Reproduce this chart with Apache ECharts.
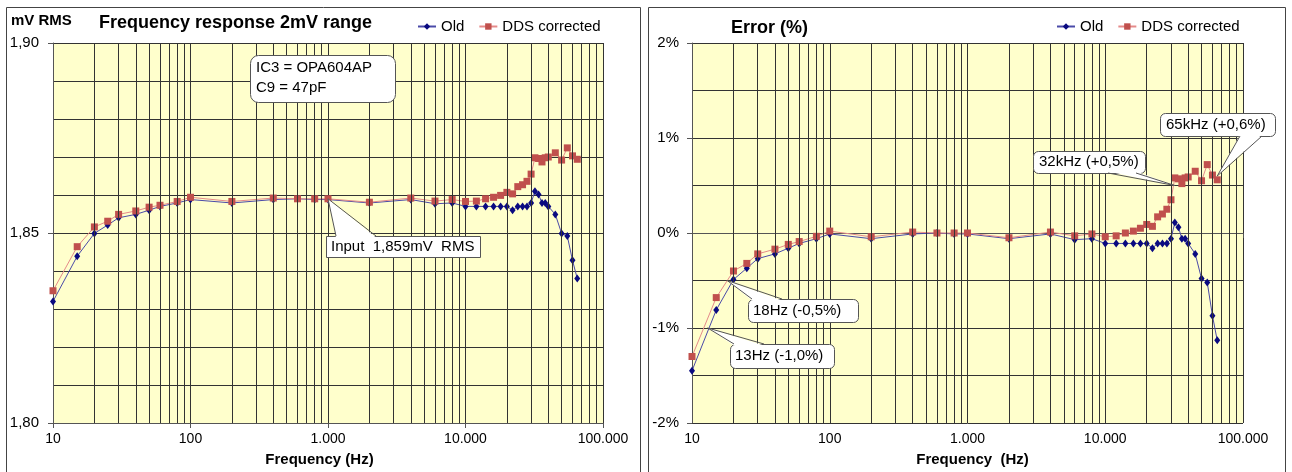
<!DOCTYPE html>
<html><head><meta charset="utf-8">
<script src="https://cdn.jsdelivr.net/npm/echarts@6/dist/echarts.min.js"></script>
<style>html,body{margin:0;padding:0;background:#fff;}#c{width:1292px;height:472px;}</style>
</head><body><div id="c"></div>
<script>
// ---- data ----
const freqs = [10,15,20,25,30,40,50,60,80,100,200,400,600,800,1000,2000,4000,6000,8000,10000,12000,14000,16000,18000,20000,22000,24000,26000,28000,30000,32000,34000,36000,38000,40000,45000,50000,55000,60000,65000];
const mvOld = [1.8320,1.8439,1.8499,1.8521,1.8540,1.8549,1.8560,1.8570,1.8579,1.8588,1.8579,1.8588,1.8590,1.8588,1.8588,1.8579,1.8588,1.8577,1.8579,1.8570,1.8570,1.8570,1.8570,1.8570,1.8570,1.8560,1.8570,1.8570,1.8570,1.8579,1.8610,1.8601,1.8579,1.8579,1.8570,1.8549,1.8499,1.8492,1.8428,1.8380];
const mvDDS = [1.8348,1.8464,1.8516,1.8531,1.8549,1.8558,1.8568,1.8573,1.8583,1.8594,1.8583,1.8592,1.8590,1.8590,1.8590,1.8581,1.8592,1.8584,1.8588,1.8583,1.8584,1.8590,1.8594,1.8599,1.8607,1.8603,1.8622,1.8627,1.8636,1.8655,1.8698,1.8696,1.8687,1.8698,1.8700,1.8711,1.8692,1.8724,1.8703,1.8694];
const errOld = [-1.45,-0.81,-0.49,-0.37,-0.27,-0.22,-0.16,-0.11,-0.06,-0.01,-0.06,-0.01,0.00,-0.01,-0.01,-0.06,-0.01,-0.07,-0.06,-0.11,-0.11,-0.11,-0.11,-0.11,-0.11,-0.16,-0.11,-0.11,-0.11,-0.06,0.11,0.06,-0.06,-0.06,-0.11,-0.22,-0.48,-0.52,-0.87,-1.13];
const errDDS = [-1.30,-0.68,-0.40,-0.32,-0.22,-0.17,-0.12,-0.09,-0.035,0.02,-0.04,0.01,0.00,0.00,0.00,-0.05,0.01,-0.03,-0.01,-0.04,-0.03,0.00,0.02,0.05,0.09,0.07,0.17,0.20,0.25,0.35,0.58,0.57,0.52,0.58,0.59,0.65,0.55,0.72,0.61,0.56];
const seriesNames = ['Old','DDS corrected'];
const leftTitle = 'Frequency response 2mV range';
const leftUnit = 'mV RMS';
const rightTitle = 'Error (%)';
const xNameLeft = 'Frequency (Hz)';
const xNameRight = 'Frequency  (Hz)';
const inputLabel = 'Input  1,859mV  RMS';
const circuitNote = 'IC3 = OPA604AP\nC9 = 47pF';
const refInput = 1.859;
const notes = [
  {f:65000, v:0.6, text:'65kHz (+0,6%)'},
  {f:32000, v:0.5, text:'32kHz (+0,5%)'},
  {f:18, v:-0.5, text:'18Hz (-0,5%)'},
  {f:13, v:-1.0, text:'13Hz (-1,0%)'}
];

// minor log grid lines (2..9 per decade)
const minorFreqs = [];
[10,100,1000,10000].forEach(d => { for (let k = 2; k <= 9; k++) minorFreqs.push(k*d); });

const FONT = '"Liberation Sans", Arial, sans-serif';
const GRID = '#333';
const AX = '#555';
const OLD_MARK = '#0a0a80', OLD_LINE = '#4a4aa8';
const DDS_MARK = '#c0504d', DDS_LINE = '#e58a8a';

function fmtHz(v){
  const n = Math.round(v);
  return String(n).replace(/\B(?=(\d{3})+(?!\d))/g, '.');
}
function xAx(gi, name, pad){
  return {type:'log', logBase:10, gridIndex:gi, min:10, max:100000,
    axisLine:{show:true, lineStyle:{color:AX}},
    axisTick:{show:true, length:5, lineStyle:{color:AX}},
    axisLabel:{fontSize:14, color:'#000', fontFamily:FONT, margin:9, formatter:fmtHz},
    splitLine:{show:true, lineStyle:{color:GRID, width:1}},
    name:name, nameLocation:'middle', nameGap:29,
    nameTextStyle:{fontSize:15, fontWeight:'bold', color:'#000', fontFamily:FONT, padding:pad}};
}
function line(name, gi, ys, mark, lc, symbol, size, z){
  return {name, type:'line', xAxisIndex:gi, yAxisIndex:gi, z,
    data: freqs.map((f,i)=>[f, ys[i]]),
    symbol, symbolSize:size, showSymbol:true,
    itemStyle:{color:mark}, lineStyle:{color:lc, width:1},
    emphasis:{disabled:true}, animation:false};
}
function minorGrid(gi){
  return {type:'line', xAxisIndex:gi, yAxisIndex:gi, data:[], silent:true, z:1, animation:false,
    markLine:{silent:true, symbol:['none','none'], animation:false, label:{show:false},
      lineStyle:{color:GRID, width:1, type:'solid'}, emphasis:{disabled:true},
      data: minorFreqs.map(v=>({xAxis:v}))}};
}
const legendBase = {orient:'horizontal', itemWidth:18, itemHeight:8, itemGap:14,
  textStyle:{fontSize:15, color:'#000', fontFamily:FONT}, data:seriesNames, selectedMode:false};

const chart = echarts.init(document.getElementById('c'));
chart.setOption({
  animation:false,
  backgroundColor:'#fff',
  textStyle:{fontFamily:FONT},
  grid:[
    {left:53, top:43, width:550, height:384, show:true, backgroundColor:'#FFFFCC', borderWidth:0},
    {left:692, top:43, width:551, height:383, show:true, backgroundColor:'#FFFFCC', borderWidth:0}
  ],
  legend:[
    Object.assign({}, legendBase, {left:412, top:14}),
    Object.assign({}, legendBase, {left:1051, top:14})
  ],
  xAxis:[ xAx(0, xNameLeft, [0,17,0,0]), xAx(1, xNameRight, [0,0,0,10]) ],
  yAxis:[
    {type:'value', gridIndex:0, min:1.80, max:1.90, interval:0.05,
     axisLine:{show:true, lineStyle:{color:AX}}, axisTick:{show:true, length:5, lineStyle:{color:AX}},
     axisLabel:{fontSize:15, color:'#000', fontFamily:FONT, margin:14, formatter:v=>v.toFixed(2).replace('.',',')},
     splitLine:{show:true, lineStyle:{color:GRID}},
     minorTick:{show:false, splitNumber:5}, minorSplitLine:{show:true, lineStyle:{color:GRID}}},
    {type:'value', gridIndex:1, min:-2, max:2, interval:1,
     axisLine:{show:true, lineStyle:{color:AX}}, axisTick:{show:true, length:5, lineStyle:{color:AX}},
     axisLabel:{fontSize:15, color:'#000', fontFamily:FONT, margin:13, formatter:v=>Math.round(v)+'%'},
     splitLine:{show:true, lineStyle:{color:GRID}},
     minorTick:{show:false, splitNumber:2}, minorSplitLine:{show:true, lineStyle:{color:GRID}}}
  ],
  series:[
    minorGrid(0), minorGrid(1),
    line(seriesNames[0], 0, mvOld, OLD_MARK, OLD_LINE, 'diamond', [6,8], 3),
    line(seriesNames[1], 0, mvDDS, DDS_MARK, DDS_LINE, 'rect', 7, 4),
    line(seriesNames[0], 1, errOld, OLD_MARK, OLD_LINE, 'diamond', [6,8], 3),
    line(seriesNames[1], 1, errDDS, DDS_MARK, DDS_LINE, 'rect', 7, 4)
  ]
});

// ---- annotations (graphic) ----
const px = (gi, v) => chart.convertToPixel({gridIndex:gi}, v);
const BOXC = '#555';
function callout(box, r, text, tip, b1, b2, dy, tx, ty, lh){
  const els = [];
  els.push({type:'rect', z:100, shape:{x:box[0]+0.5, y:box[1]+0.5, width:box[2], height:box[3], r:r},
    style:{fill:'#fff', stroke:BOXC, lineWidth:1}});
  if (tip){
    els.push({type:'polygon', z:101, shape:{points:[tip, [b1[0],b1[1]+dy], [b2[0],b2[1]+dy]]},
      style:{fill:'#fff', stroke:null}});
    els.push({type:'line', z:102, shape:{x1:tip[0], y1:tip[1], x2:b1[0], y2:b1[1]}, style:{stroke:BOXC, lineWidth:1}});
    els.push({type:'line', z:102, shape:{x1:tip[0], y1:tip[1], x2:b2[0], y2:b2[1]}, style:{stroke:BOXC, lineWidth:1}});
  }
  els.push({type:'text', z:103, style:{text:text, x:tx, y:ty, fill:'#000', font:'15px "Liberation Sans", Arial, sans-serif',
    textVerticalAlign:'middle', lineHeight: lh || 18}});
  return els;
}
let g = [];
// panel frames
g.push({type:'rect', z:0, shape:{x:6.5, y:7.5, width:634, height:480}, style:{fill:null, stroke:'#444', lineWidth:1}});
g.push({type:'rect', z:0, shape:{x:648.5, y:7.5, width:637, height:480}, style:{fill:null, stroke:'#444', lineWidth:1}});
// titles
g.push({type:'text', z:10, style:{text:leftUnit, x:11, y:21, fill:'#000', font:'bold 15px "Liberation Sans", Arial, sans-serif', textVerticalAlign:'middle'}});
g.push({type:'text', z:10, style:{text:leftTitle, x:99, y:23, fill:'#000', font:'bold 18px "Liberation Sans", Arial, sans-serif', textVerticalAlign:'middle'}});
g.push({type:'text', z:10, style:{text:rightTitle, x:731, y:28, fill:'#000', font:'bold 18px "Liberation Sans", Arial, sans-serif', textVerticalAlign:'middle'}});
// left callouts
g = g.concat(callout([250,55,145,47], 8, circuitNote, null, null, null, 0, 256, 78, 20));
g = g.concat(callout([326,236,154,21], 0, inputLabel, px(0,[1000, refInput]), [336,236], [376,236], 1.5, 331, 247));
// right callouts
const tips = notes.map(n => px(1, [n.f, n.v]));
g = g.concat(callout([1160,113,115,23], 5, notes[0].text, tips[0], [1240,136], [1262,136], -1.5, 1166, 125));
g = g.concat(callout([1033,151,112,22], 5, notes[1].text, tips[1], [1108,173], [1136,173], -1.5, 1039, 162));
g = g.concat(callout([748,299,110,23], 5, notes[2].text, tips[2], [752,299], [782,299], 1.5, 753, 311));
g = g.concat(callout([730,344,104,24], 5, notes[3].text, tips[3], [734,344], [764,344], 1.5, 735, 356));
chart.setOption({graphic: g});
</script>
</body></html>
